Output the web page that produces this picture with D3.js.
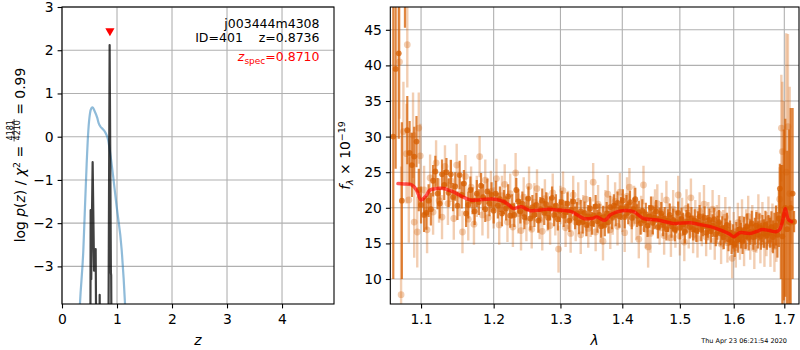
<!DOCTYPE html>
<html>
<head>
<meta charset="utf-8">
<script src="https://cdn.jsdelivr.net/npm/d3@7"></script>
<style>
  body { margin: 0; background: #fff; }
  svg { font-family: "DejaVu Sans", sans-serif; display: block; }
</style>
</head>
<body>
<svg id="fig" width="800" height="350"></svg>
<script>
// ---------- redshift probability panel ----------
const zTicks = [0, 1, 2, 3, 4];
const logpTicks = [-3, -2, -1, 0, 1, 2, 3];

// chi^2-based p(z), smooth curve
const chiZ    = [0.300, 0.327, 0.388, 0.418, 0.449, 0.479, 0.509, 0.535, 0.557, 0.590, 0.640, 0.670, 0.700, 0.740, 0.780, 0.840, 0.900, 0.994, 1.085, 1.145, 1.170];
const chiLogp = [-4.6, -3.85, -2.62, -1.62, -0.61, 0.15, 0.54, 0.66, 0.68, 0.60, 0.44, 0.30, 0.23, 0.18, 0.115, -0.08, -0.61, -1.62, -2.62, -3.85, -4.6];

// full p(z) from the fit grid
const pzZ    = [0.500, 0.514, 0.521, 0.531, 0.557, 0.583, 0.612, 0.628, 0.678, 0.685, 0.692, 0.840, 0.866, 0.889, 0.894, 0.905];
const pzLogp = [-6, -6, -1.7, -3.3, -0.59, -3.1, -2.6, -6, -6, -3.66, -6, -6, 2.12, -3.15, -3.2, -6];

const zSpec = 0.8710;
const zSpecMarkY = 2.42;

// ---------- spectrum panel ----------
const lamTicks = [1.1, 1.2, 1.3, 1.4, 1.5, 1.6, 1.7];
const fluxTicks = [10, 15, 20, 25, 30, 35, 40, 45];

const modelLam  = [1.070,1.078,1.088,1.094,1.100,1.106,1.112,1.121,1.130,1.139,1.148,1.157,1.167,1.178,1.190,1.202,1.214,1.222,1.229,1.240,1.254,1.269,1.282,1.295,1.316,1.337,1.350,1.358,1.371,1.380,1.390,1.400,1.419,1.436,1.460,1.489,1.519,1.540,1.556,1.570,1.582,1.592,1.600,1.612,1.631,1.645,1.656,1.670,1.683,1.690,1.696,1.702,1.708,1.715];
const modelFlux = [23.4,23.35,23.2,22.5,21.1,21.6,22.5,22.7,22.7,22.4,22.0,21.5,21.1,21.1,21.2,21.2,20.9,20.4,19.9,20.15,19.6,19.7,19.8,19.7,19.5,18.5,18.5,18.7,18.25,19.0,19.4,19.6,19.45,18.5,18.3,17.8,17.9,17.6,17.35,17.0,16.65,16.3,15.95,16.5,16.4,16.7,16.95,16.8,16.65,16.9,18.0,19.9,18.4,18.05];

// [wavelength (um), flux, error]  -- faint exposure
const lightSpec = [
  [1.072,40.5,8],[1.074,7.8,18],[1.077,30.7,7],[1.081,27.6,7],[1.082,42.9,6],[1.084,21.1,6],[1.0895,30.2,6],[1.091,18.0,5],[1.095,16.6,5],[1.097,31.2,5],
  [1.099,27.3,4.5],[1.104,22.5,3.4],[1.108,16.9,3.3],[1.112,24.2,3.3],[1.116,19.4,3.2],[1.120,26.3,3.2],[1.124,21.0,3.1],[1.128,18.7,3.1],[1.132,25.8,3.0],[1.136,20.6,3.0],
  [1.140,23.8,3.0],[1.144,18.5,3.0],[1.148,26.0,3.0],[1.152,21.8,3.0],[1.156,16.6,3.0],[1.160,24.4,3.0],[1.164,18.4,3.0],[1.168,22.9,2.9],[1.172,17.7,2.9],[1.176,21.6,2.9],
  [1.180,27.2,2.9],[1.184,19.0,2.9],[1.188,23.9,2.9],[1.192,18.6,2.9],[1.196,22.3,2.9],[1.200,20.0,2.9],[1.204,24.1,2.8],[1.208,17.6,2.8],[1.212,21.7,2.8],[1.216,23.3,2.8],
  [1.220,18.0,2.8],[1.224,22.0,2.8],[1.228,17.3,2.8],[1.232,24.9,2.8],[1.236,19.2,2.8],[1.240,16.8,2.8],[1.244,21.5,2.8],[1.248,18.1,2.8],[1.252,23.0,2.8],[1.256,17.0,2.7],
  [1.260,20.8,2.7],[1.264,22.7,2.7],[1.268,18.3,2.7],[1.272,16.7,2.7],[1.276,21.3,2.7],[1.280,19.4,2.7],[1.284,17.5,2.7],[1.288,22.1,2.7],[1.292,18.8,2.7],[1.297,14.2,3.3],
  [1.300,20.4,2.7],[1.304,22.4,2.7],[1.308,17.2,2.7],[1.312,19.7,2.7],[1.316,16.4,2.7],[1.320,21.8,2.7],[1.324,18.0,2.7],[1.328,20.9,2.7],[1.332,16.2,2.7],[1.336,19.1,2.7],
  [1.340,21.2,2.7],[1.344,17.1,2.7],[1.348,18.6,2.7],[1.352,23.6,2.7],[1.356,16.6,2.7],[1.360,20.5,2.7],[1.364,17.8,2.7],[1.368,15.3,2.7],[1.372,19.8,2.7],[1.376,21.9,2.7],
  [1.380,16.9,2.7],[1.384,18.9,2.7],[1.388,20.9,2.7],[1.392,17.4,2.7],[1.396,22.2,2.7],[1.400,19.3,2.7],[1.404,16.5,2.7],[1.408,21.6,2.7],[1.412,22.9,2.7],[1.416,17.8,2.7],
  [1.420,20.4,2.7],[1.424,18.2,2.7],[1.428,15.6,2.7],[1.432,19.0,2.7],[1.436,23.2,2.7],[1.440,17.0,2.7],[1.444,14.5,2.9],[1.448,16.4,2.7],[1.452,18.9,2.7],[1.456,19.9,2.7],
  [1.460,20.6,2.7],[1.464,17.5,2.7],[1.468,19.4,2.7],[1.472,16.1,2.7],[1.476,21.1,2.7],[1.480,18.0,2.7],[1.484,15.8,2.7],[1.488,19.8,2.7],[1.492,17.1,2.7],[1.497,21.8,2.7],
  [1.500,16.0,2.7],[1.504,18.7,2.7],[1.508,15.2,2.7],[1.512,19.9,2.7],[1.516,17.0,2.7],[1.520,21.4,2.7],[1.524,16.3,2.7],[1.528,18.4,2.7],[1.532,15.7,2.7],[1.536,19.5,2.7],
  [1.540,17.3,2.7],[1.544,20.5,2.7],[1.548,15.9,2.7],[1.552,18.1,2.7],[1.556,16.8,2.7],[1.560,19.8,2.7],[1.564,15.4,2.7],[1.568,17.7,2.7],[1.572,19.1,2.7],[1.576,14.9,2.8],
  [1.580,16.9,2.8],[1.584,18.7,2.8],[1.588,15.1,2.8],[1.592,17.4,2.8],[1.597,12.9,2.8],[1.600,16.6,2.8],[1.604,14.4,2.8],[1.608,17.9,2.8],[1.612,15.5,2.8],[1.616,18.4,2.8],
  [1.620,14.7,2.9],[1.624,16.9,2.9],[1.628,18.8,2.9],[1.632,15.6,2.9],[1.636,17.5,2.9],[1.640,14.3,2.9],[1.644,16.7,3.0],[1.648,18.9,3.0],[1.652,15.2,3.0],[1.656,17.8,3.0],
  [1.660,14.8,3.1],[1.664,16.3,3.1],[1.668,18.4,3.2],[1.672,15.0,3.3],[1.676,17.2,3.4],[1.680,14.6,3.6],[1.684,16.4,4.0],[1.6905,21.2,4.5],[1.694,31.2,7.5],[1.696,27.9,9.8],
  [1.699,18.0,17],[1.704,25.0,19.5],[1.7075,31.4,13],[1.711,22.0,15],[1.714,18.0,3]
];

// [wavelength (um), flux, error]  -- combined exposure
const darkSpec = [
  [1.064,30.0,20],[1.067,39.5,14],[1.071,41.7,12],[1.075,21.0,11],[1.079,50.0,4.7],[1.082,30.9,4.8],[1.085,27.7,4.5],[1.088,26.0,4.5],[1.091,27.2,4.2],[1.094,29.3,3.6],
  [1.097,22.5,3.0],[1.100,20.4,2.6],[1.104,19.0,2.4],[1.107,19.3,2.4],[1.110,21.0,2.3],[1.113,19.8,2.3],[1.116,23.8,2.2],[1.119,25.1,2.2],[1.122,22.0,2.2],[1.125,20.6,2.1],
  [1.128,24.7,2.1],[1.131,23.2,2.1],[1.134,25.0,2.0],[1.137,22.1,2.0],[1.140,24.7,2.0],[1.143,21.5,2.0],[1.146,23.0,2.0],[1.149,20.3,2.0],[1.152,24.6,2.0],[1.155,21.8,1.9],
  [1.158,23.4,1.9],[1.161,19.2,1.9],[1.164,20.4,1.9],[1.167,22.5,1.9],[1.170,21.0,1.9],[1.173,19.5,1.9],[1.176,22.0,1.9],[1.179,20.8,1.8],[1.182,23.1,1.8],[1.185,21.5,1.8],
  [1.188,19.8,1.8],[1.191,22.3,1.8],[1.194,20.6,1.8],[1.197,21.8,1.8],[1.200,19.6,1.8],[1.203,22.0,1.8],[1.206,20.3,1.8],[1.209,21.2,1.8],[1.212,19.2,1.8],[1.215,20.8,1.7],
  [1.218,19.9,1.7],[1.221,21.6,1.7],[1.224,18.9,1.7],[1.227,20.2,1.7],[1.230,19.0,1.7],[1.233,22.5,1.7],[1.236,20.9,1.7],[1.239,19.5,1.7],[1.242,20.6,1.7],[1.245,18.7,1.7],
  [1.248,19.9,1.7],[1.251,21.3,1.7],[1.254,18.5,1.7],[1.257,20.1,1.7],[1.260,19.0,1.7],[1.263,20.4,1.7],[1.266,18.2,1.7],[1.269,19.8,1.7],[1.272,21.0,1.7],[1.275,19.3,1.7],
  [1.278,20.5,1.7],[1.281,18.6,1.7],[1.284,19.9,1.7],[1.287,21.4,1.6],[1.290,19.0,1.6],[1.293,20.3,1.6],[1.296,18.4,1.6],[1.299,19.6,1.6],[1.302,20.8,1.6],[1.305,18.9,1.6],
  [1.308,19.4,1.6],[1.311,20.6,1.6],[1.314,18.2,1.6],[1.317,19.7,1.6],[1.320,20.9,1.6],[1.323,18.6,1.6],[1.326,19.2,1.6],[1.329,17.9,1.6],[1.332,19.5,1.6],[1.335,18.0,1.6],
  [1.338,19.3,1.6],[1.341,17.6,1.6],[1.344,18.8,1.6],[1.347,19.9,1.6],[1.350,17.8,1.6],[1.353,18.9,1.6],[1.356,20.2,1.6],[1.359,18.1,1.6],[1.362,19.0,1.6],[1.365,17.4,1.6],
  [1.368,18.7,1.6],[1.371,17.6,1.6],[1.374,19.2,1.6],[1.377,18.0,1.6],[1.380,20.1,1.6],[1.383,18.6,1.6],[1.386,20.3,1.6],[1.389,19.0,1.6],[1.392,20.7,1.6],[1.395,18.8,1.6],
  [1.398,19.9,1.6],[1.401,21.0,1.6],[1.404,18.7,1.6],[1.407,20.2,1.6],[1.410,19.3,1.6],[1.413,20.8,1.6],[1.416,18.6,1.6],[1.419,19.8,1.6],[1.422,21.2,1.6],[1.425,18.9,1.6],
  [1.428,19.4,1.6],[1.431,17.8,1.6],[1.434,19.6,1.6],[1.437,18.2,1.6],[1.440,19.1,1.6],[1.443,17.5,1.6],[1.446,18.8,1.6],[1.449,20.0,1.6],[1.452,17.9,1.6],[1.455,18.6,1.6],
  [1.458,19.5,1.6],[1.461,17.3,1.6],[1.464,18.4,1.6],[1.467,19.2,1.6],[1.470,17.6,1.6],[1.473,18.5,1.6],[1.476,17.0,1.6],[1.479,18.2,1.6],[1.482,19.0,1.6],[1.485,17.4,1.6],
  [1.488,18.3,1.6],[1.491,16.9,1.6],[1.494,18.0,1.6],[1.497,19.3,1.6],[1.500,17.2,1.6],[1.503,18.4,1.6],[1.506,17.7,1.6],[1.509,16.6,1.6],[1.512,18.1,1.6],[1.515,19.0,1.6],
  [1.518,17.3,1.6],[1.521,18.5,1.6],[1.524,17.0,1.6],[1.527,18.2,1.6],[1.530,16.8,1.6],[1.533,17.9,1.6],[1.536,18.8,1.6],[1.539,16.9,1.6],[1.542,17.6,1.6],[1.545,18.6,1.6],
  [1.548,16.5,1.6],[1.551,17.4,1.6],[1.554,18.3,1.6],[1.557,16.7,1.6],[1.560,17.5,1.6],[1.563,18.4,1.6],[1.566,16.3,1.7],[1.569,17.2,1.7],[1.572,18.0,1.7],[1.575,16.4,1.7],
  [1.578,17.1,1.7],[1.581,15.9,1.7],[1.584,16.8,1.7],[1.587,17.6,1.7],[1.590,15.6,1.7],[1.593,16.5,1.7],[1.596,15.2,1.7],[1.599,16.0,1.7],[1.602,14.9,1.8],[1.605,16.2,1.8],
  [1.608,15.5,1.8],[1.611,17.0,1.8],[1.614,16.1,1.8],[1.617,15.3,1.8],[1.620,16.9,1.8],[1.623,16.0,1.8],[1.626,17.4,1.8],[1.629,15.8,1.8],[1.632,16.6,1.8],[1.635,17.8,1.8],
  [1.638,15.9,1.8],[1.641,16.7,1.9],[1.644,17.5,1.9],[1.647,16.2,1.9],[1.650,17.3,1.9],[1.653,16.0,1.9],[1.656,17.1,1.9],[1.659,16.4,2.0],[1.662,17.6,2.0],[1.665,16.1,2.0],
  [1.668,17.0,2.0],[1.671,16.5,2.1],[1.674,17.3,2.2],[1.677,15.9,2.3],[1.680,16.8,2.5],[1.683,17.5,2.8],[1.686,16.2,3.2],[1.689,18.5,4.0],[1.691,22.7,3.5],[1.693,18.0,8.0],
  [1.696,16.0,10.0],[1.699,19.0,12.0],[1.702,20.0,12.5],[1.706,17.0,11.0],[1.710,18.0,13.0],[1.713,20.0,14.0],[1.717,22.0,12.0],[1.720,18.05,1.5]
];

const fontBase = 13.9;
const svg = d3.select("#fig");
const gridColor = "#b0b0b0";
const specColor = "#d55e00";
const intFmt = d3.format("d");

// ---------------- left panel ----------------
const L = { x0: 62, x1: 334, y0: 7, y1: 304 };
const xz = d3.scaleLinear().domain([0, 4.945]).range([L.x0, L.x1]);
const yp = d3.scaleLinear().domain([-3.87, 3]).range([L.y1, L.y0]);

svg.append("clipPath").attr("id", "clipL")
  .append("rect").attr("x", L.x0).attr("y", L.y0).attr("width", L.x1 - L.x0).attr("height", L.y1 - L.y0);

const gL = svg.append("g");
// grid
gL.append("g").selectAll("line").data(zTicks).join("line")
  .attr("x1", d => xz(d)).attr("x2", d => xz(d)).attr("y1", L.y0).attr("y2", L.y1)
  .attr("stroke", gridColor).attr("stroke-width", 1.1);
gL.append("g").selectAll("line").data(logpTicks).join("line")
  .attr("x1", L.x0).attr("x2", L.x1).attr("y1", d => yp(d)).attr("y2", d => yp(d))
  .attr("stroke", gridColor).attr("stroke-width", 1.1);

const curvesL = gL.append("g").attr("clip-path", "url(#clipL)");
curvesL.append("path")
  .attr("d", d3.line().x((d, i) => xz(chiZ[i])).y(d => yp(d)).curve(d3.curveMonotoneX)(chiLogp))
  .attr("fill", "none").attr("stroke", "#1f77b4").attr("stroke-opacity", 0.5).attr("stroke-width", 2.2);
curvesL.append("path")
  .attr("d", d3.line().x((d, i) => xz(pzZ[i])).y(d => yp(d))(pzLogp))
  .attr("fill", "none").attr("stroke", "#000").attr("stroke-opacity", 0.75).attr("stroke-width", 2.2)
  .attr("stroke-linejoin", "round");

// spectroscopic redshift marker
const tx = xz(zSpec), ty = yp(zSpecMarkY);
gL.append("path")
  .attr("d", `M${tx - 4.6},${ty - 3.9}L${tx + 4.6},${ty - 3.9}L${tx},${ty + 4.2}Z`)
  .attr("fill", "red");

// axes
const axL = gL.append("g").attr("transform", `translate(${L.x0},0)`)
  .call(d3.axisLeft(yp).tickValues(logpTicks).tickFormat(intFmt).tickSize(4.4).tickPadding(4).tickSizeOuter(0));
const axB = gL.append("g").attr("transform", `translate(0,${L.y1})`)
  .call(d3.axisBottom(xz).tickValues(zTicks).tickFormat(intFmt).tickSize(4.4).tickPadding(5.5).tickSizeOuter(0));
[axL, axB].forEach(a => {
  a.select(".domain").remove();
  a.selectAll("text").attr("font-size", fontBase).attr("font-family", "DejaVu Sans").attr("fill", "#000");
  a.selectAll("line").attr("stroke", "#000").attr("stroke-width", 1.1);
});
gL.append("rect").attr("x", L.x0).attr("y", L.y0).attr("width", L.x1 - L.x0).attr("height", L.y1 - L.y0)
  .attr("fill", "none").attr("stroke", "#000").attr("stroke-width", 1.1);

// annotations
const ann = gL.append("g").attr("font-size", 12.5).attr("text-anchor", "end");
ann.append("text").attr("x", 319.5).attr("y", 27.5).text("j003444m4308");
ann.append("text").attr("x", 319.5).attr("y", 42).attr("xml:space", "preserve").style("white-space", "pre").text("ID=401    z=0.8736");
const zs = ann.append("text").attr("x", 319.5).attr("y", 61).attr("fill", "red");
zs.append("tspan").attr("font-style", "italic").text("z");
zs.append("tspan").attr("font-size", 9).attr("dy", 2.5).text("spec");
zs.append("tspan").attr("dy", -2.5).text("=0.8710");

// axis label z
gL.append("text").attr("x", (L.x0 + L.x1) / 2).attr("y", 345).attr("text-anchor", "middle")
  .attr("font-size", fontBase).attr("font-style", "italic").text("z");

// y label with stacked fraction
const yl = gL.append("g");
const part1 = yl.append("text").attr("font-size", fontBase).attr("x", 0).attr("y", 0)
  .attr("xml:space", "preserve").style("white-space", "pre");
part1.append("tspan").text("log ");
part1.append("tspan").attr("font-style", "italic").text("p");
part1.append("tspan").text("(");
part1.append("tspan").attr("font-style", "italic").text("z");
part1.append("tspan").text(") / ");
part1.append("tspan").attr("font-style", "italic").text("χ");
part1.append("tspan").attr("font-size", 9.5).attr("dy", -5.5).text("2");
part1.append("tspan").attr("dy", 5.5).text(" = ");
const w1 = part1.node().getComputedTextLength();
const num = yl.append("text").attr("font-size", 8).attr("y", -12.3).attr("text-anchor", "middle").text("4181");
const den = yl.append("text").attr("font-size", 8).attr("y", -5.2).attr("text-anchor", "middle").text("4210");
const fw = Math.max(num.node().getComputedTextLength(), den.node().getComputedTextLength()) + 2;
num.attr("x", w1 + fw / 2);
den.attr("x", w1 + fw / 2);
yl.append("line").attr("x1", w1).attr("x2", w1 + fw).attr("y1", -10.9).attr("y2", -10.9)
  .attr("stroke", "#000").attr("stroke-width", 0.7);
const part3 = yl.append("text").attr("font-size", fontBase).attr("x", w1 + fw).attr("y", 0)
  .attr("xml:space", "preserve").style("white-space", "pre").text(" = 0.99");
const wTot = w1 + fw + part3.node().getComputedTextLength();
yl.attr("transform", `translate(25,${155 + wTot / 2}) rotate(-90)`);

// ---------------- right panel ----------------
const R = { x0: 390.3, x1: 799, y0: 7, y1: 304 };
const xl = d3.scaleLog().domain([1.0602, 1.7302]).range([R.x0, R.x1]);
const yf = d3.scaleLinear().domain([6.49, 48.2]).range([R.y1, R.y0]);

svg.append("clipPath").attr("id", "clipR")
  .append("rect").attr("x", R.x0).attr("y", R.y0).attr("width", R.x1 - R.x0).attr("height", R.y1 - R.y0);

const gR = svg.append("g");
gR.append("g").selectAll("line").data(lamTicks).join("line")
  .attr("x1", d => xl(d)).attr("x2", d => xl(d)).attr("y1", R.y0).attr("y2", R.y1)
  .attr("stroke", gridColor).attr("stroke-width", 1.1);
gR.append("g").selectAll("line").data(fluxTicks).join("line")
  .attr("x1", R.x0).attr("x2", R.x1).attr("y1", d => yf(d)).attr("y2", d => yf(d))
  .attr("stroke", gridColor).attr("stroke-width", 1.1);

const dataR = gR.append("g").attr("clip-path", "url(#clipR)");

function drawSpec(pts, alpha, r, bw) {
  const g = dataR.append("g");
  g.selectAll("line").data(pts).join("line")
    .attr("x1", d => xl(d[0])).attr("x2", d => xl(d[0]))
    .attr("y1", d => yf(d[1] - d[2])).attr("y2", d => yf(d[1] + d[2]))
    .attr("stroke", specColor).attr("stroke-opacity", alpha).attr("stroke-width", bw);
  g.selectAll("circle").data(pts).join("circle")
    .attr("cx", d => xl(d[0])).attr("cy", d => yf(d[1])).attr("r", r)
    .attr("fill", specColor).attr("fill-opacity", alpha);
}
drawSpec(lightSpec, 0.3, 3.4, 2.4);
drawSpec(darkSpec, 0.75, 2.9, 2.2);

dataR.append("path")
  .attr("d", d3.line().x((d, i) => xl(modelLam[i])).y(d => yf(d)).curve(d3.curveCatmullRom)(modelFlux))
  .attr("fill", "none").attr("stroke", "red").attr("stroke-opacity", 0.65).attr("stroke-width", 3.5)
  .attr("stroke-linejoin", "round").attr("stroke-linecap", "round");

const axRL = gR.append("g").attr("transform", `translate(${R.x0},0)`)
  .call(d3.axisLeft(yf).tickValues(fluxTicks).tickFormat(intFmt).tickSize(4.4).tickPadding(4).tickSizeOuter(0));
const axRB = gR.append("g").attr("transform", `translate(0,${R.y1})`)
  .call(d3.axisBottom(xl).tickValues(lamTicks).tickFormat(d3.format(".1f")).tickSize(4.4).tickPadding(5.5).tickSizeOuter(0));
[axRL, axRB].forEach(a => {
  a.select(".domain").remove();
  a.selectAll("text").attr("font-size", fontBase).attr("font-family", "DejaVu Sans").attr("fill", "#000");
  a.selectAll("line").attr("stroke", "#000").attr("stroke-width", 1.1);
});
gR.append("rect").attr("x", R.x0).attr("y", R.y0).attr("width", R.x1 - R.x0).attr("height", R.y1 - R.y0)
  .attr("fill", "none").attr("stroke", "#000").attr("stroke-width", 1.1);

// axis labels
gR.append("text").attr("x", (R.x0 + R.x1) / 2).attr("y", 345).attr("text-anchor", "middle")
  .attr("font-size", fontBase).attr("font-style", "italic").text("λ");

const fl = gR.append("text").attr("font-size", fontBase).attr("text-anchor", "middle")
  .attr("transform", "translate(350,155.5) rotate(-90)");
fl.append("tspan").attr("font-style", "italic").text("f");
fl.append("tspan").attr("font-style", "italic").attr("font-size", 9.5).attr("dy", 3).text("λ");
fl.append("tspan").attr("dy", -3).attr("xml:space", "preserve").style("white-space", "pre").text(" × 10");
fl.append("tspan").attr("font-size", 9.5).attr("dy", -5.5).text("−19");

// timestamp
svg.append("text").attr("x", 787).attr("y", 343).attr("text-anchor", "end")
  .attr("font-size", 6.5).text("Thu Apr 23 06:21:54 2020");
</script>
</body>
</html>
